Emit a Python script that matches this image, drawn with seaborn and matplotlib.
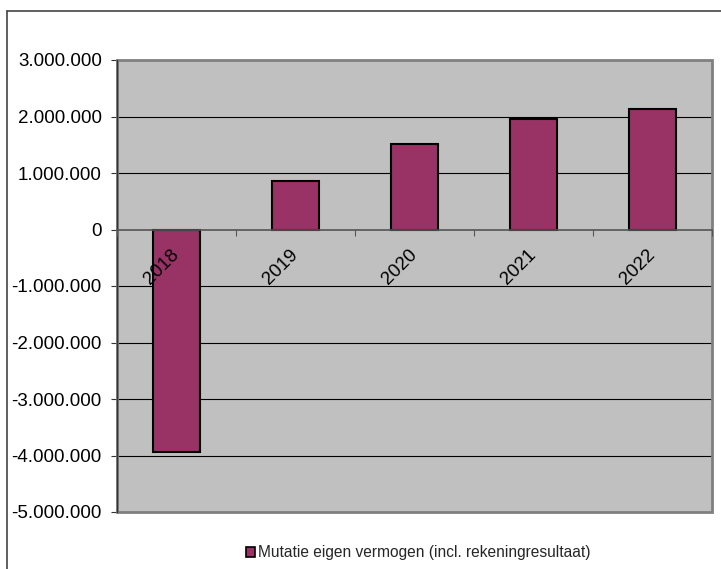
import matplotlib
matplotlib.use("Agg")
import matplotlib.pyplot as plt
import matplotlib.transforms as mtransforms
from matplotlib.patches import Patch, Rectangle
from matplotlib.lines import Line2D
import seaborn as sns
import pandas as pd

years = ["2018", "2019", "2020", "2021", "2022"]
mutatie = [-3940000, 850000, 1520000, 1960000, 2130000]
y_ticks = [3000000, 2000000, 1000000, 0, -1000000, -2000000, -3000000, -4000000, -5000000]
series_label = "Mutatie eigen vermogen (incl. rekeningresultaat)"

BAR_COLOR = "#993366"

sns.set_theme(style="white")
plt.rcParams["font.family"] = ["Liberation Sans", "DejaVu Sans"]

df = pd.DataFrame({"jaar": years, "mutatie": mutatie})

fig = plt.figure(figsize=(7.21, 5.69), dpi=100)
ax = fig.add_axes([117 / 721, 1 - 512 / 569, 595 / 721, 452 / 569])
ax.set_facecolor("#c0c0c0")

sns.barplot(data=df, x="jaar", y="mutatie", color=BAR_COLOR, saturation=1,
            width=0.4, edgecolor="black", linewidth=1.5, ax=ax, zorder=2)

ax.set_xlim(-0.5, len(years) - 0.5)
ax.set_ylim(min(y_ticks), max(y_ticks))
ax.set_xlabel("")
ax.set_ylabel("")

# horizontal gridlines behind the bars
for v in y_ticks[1:-1]:
    if v != 0:
        ax.axhline(v, color="black", lw=0.8, zorder=0.5)

# gray plot-area frame
ax.add_patch(Rectangle((0, 0), 1, 1, transform=ax.transAxes, fill=False,
                       edgecolor="#808080", lw=2, zorder=1, clip_on=False))

ax.set_yticks(y_ticks)
ax.set_yticklabels([f"{v:,.0f}".replace(",", ".") for v in y_ticks], fontsize=13.5)
ax.tick_params(axis="y", direction="out", length=4, width=0.8, color="#333333",
               pad=7, labelcolor="black", left=True)

# category axis sits on the zero line
for s in ["top", "right"]:
    ax.spines[s].set_visible(False)
ax.spines["bottom"].set_position(("data", 0))
ax.spines["bottom"].set_color("#555555")
ax.spines["bottom"].set_linewidth(1.2)
ax.spines["bottom"].set_zorder(3)
ax.spines["left"].set_color("#333333")
ax.spines["left"].set_linewidth(1.0)
ax.spines["left"].set_zorder(3)

ax.set_xticks(range(len(years)))
ax.set_xticklabels(years, fontsize=13.5, rotation=45, ha="right", va="top")
ax.set_xticks([i - 0.5 for i in range(len(years) + 1)], minor=True)
ax.tick_params(axis="x", which="major", length=0, pad=12, labelcolor="black")
ax.tick_params(axis="x", which="minor", direction="out", length=4, width=0.8,
               color="#555555", bottom=True)
shift = mtransforms.ScaledTranslation(6 / 100, 0, fig.dpi_scale_trans)
for lab in ax.get_xticklabels():
    lab.set_transform(lab.get_transform() + shift)
    lab.set_zorder(4)
ax.xaxis.set_zorder(4)

# legend below the plot area
handle = Patch(facecolor=BAR_COLOR, edgecolor="black", linewidth=1.2)
fig.legend([handle], [series_label], loc="center",
           bbox_to_anchor=(418 / 721, 1 - 553 / 569), frameon=False,
           fontsize=11.2, handlelength=0.6, handleheight=0.6, handletextpad=0.2)

# outer chart border
fig.add_artist(Line2D([7 / 721, 1], [1 - 11 / 569, 1 - 11 / 569],
                      transform=fig.transFigure, color="#444444", lw=1.2))
fig.add_artist(Line2D([7 / 721, 7 / 721], [0, 1 - 11 / 569],
                      transform=fig.transFigure, color="#444444", lw=1.2))

fig.savefig("out.png", dpi=100)
